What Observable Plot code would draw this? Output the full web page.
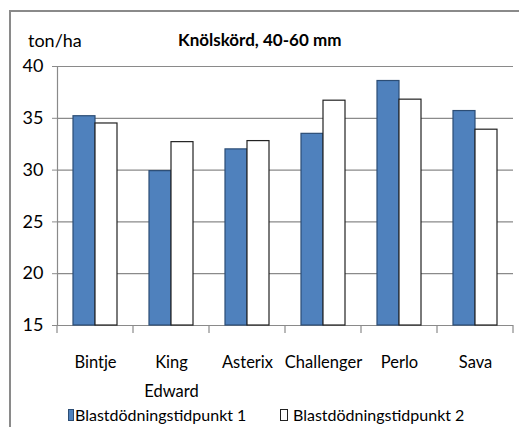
<!DOCTYPE html>
<html>
<head>
<meta charset="utf-8">
<script src="https://cdn.jsdelivr.net/npm/d3@7"></script>
<script src="https://cdn.jsdelivr.net/npm/@observablehq/plot@0.6"></script>
<style>
  html, body { margin: 0; padding: 0; background: #ffffff; }
  #wrap { position: relative; width: 519px; height: 427px; overflow: hidden; background: #ffffff;
          font-family: Lato, "DejaVu Sans Condensed", sans-serif; color: #000; }
  #frame { position: absolute; left: 9px; top: 10px; width: 600px; height: 600px;
           border-top: 2px solid #8a8a8a; border-left: 2px solid #8a8a8a; }
  #chart { position: absolute; left: 0; top: 0; }
  .txt { position: absolute; white-space: nowrap; line-height: 1; }
  #unit { left: 28px; top: 31px; font-size: 18px; }
  #title { left: 178px; top: 31px; font-size: 17px; font-weight: bold; }
  .sw { position: absolute; height: 12px; box-sizing: border-box; }
</style>
</head>
<body>
<div id="wrap">
  <div id="frame"></div>
  <div id="chart"></div>
  <div id="unit" class="txt"></div>
  <div id="title" class="txt"></div>
  <div id="legend"></div>
</div>
<script>
// ---- data ----
const varieties = ["Bintje", "King Edward", "Asterix", "Challenger", "Perlo", "Sava"];
const seriesNames = ["Blastdödningstidpunkt 1", "Blastdödningstidpunkt 2"];
const values1 = [35.2, 29.9, 32.0, 33.5, 38.6, 35.7];
const values2 = [34.5, 32.7, 32.8, 36.7, 36.8, 33.9];
const yTicks = [15, 20, 25, 30, 35, 40];
const titleText = "Knölskörd, 40-60 mm";
const unitText = "ton/ha";
const seriesFill = ["#4f81bd", "#ffffff"];
const seriesStroke = ["#2c4d75", "#222222"];

const data = varieties.flatMap((v, i) => [
  {variety: v, series: seriesNames[0], value: values1[i]},
  {variety: v, series: seriesNames[1], value: values2[i]}
]);

const fontFamily = 'Lato, "DejaVu Sans Condensed", sans-serif';

const chart = Plot.plot({
  width: 519,
  height: 400,
  marginTop: 66,
  marginBottom: 75,
  marginLeft: 57,
  marginRight: 6,
  style: {background: "transparent", fontFamily, fontSize: "17px", color: "#000", overflow: "visible"},
  fx: {domain: varieties, padding: 0, label: null, axis: null},
  x: {domain: seriesNames, paddingInner: 0, paddingOuter: 0.727, axis: null},
  y: {domain: [15, 40], label: null, axis: null},
  color: {domain: seriesNames, range: seriesFill},
  marks: [
    Plot.gridY(yTicks, {stroke: "#8a8a8a", strokeOpacity: 1, strokeWidth: 1.2}),
    Plot.frame({anchor: "left", facetAnchor: "left", stroke: "#8a8a8a", strokeWidth: 1.2}),
    Plot.axisY(yTicks, {tickSize: 5, tickPadding: 9, label: null, stroke: "#8a8a8a", fill: "#000", fontSize: 18}),
    Plot.barY(data, {
      fx: "variety", x: "series", y1: 15, y2: "value",
      fill: "series",
      stroke: d => d.series === seriesNames[0] ? seriesStroke[0] : seriesStroke[1],
      strokeWidth: 1.2
    }),
    Plot.axisFx({
      anchor: "bottom", tickSize: 0, tickPadding: 22, label: null, fontSize: 16.5, lineHeight: 1.75,
      tickFormat: d => d.replace(" ", "\n")
    })
  ]
});
document.getElementById("chart").appendChild(chart);

// category boundary ticks below the axis, positioned by Plot's own scales
const fx = chart.scale("fx");
const y = chart.scale("y");
const y0 = y.apply(15);
const edges = varieties.map(v => fx.apply(v)).concat([fx.apply(varieties[varieties.length - 1]) + fx.bandwidth]);
d3.select(chart).append("g")
  .selectAll("line").data(edges).join("line")
  .attr("x1", d => d).attr("x2", d => d)
  .attr("y1", y0).attr("y2", y0 + 8)
  .attr("stroke", "#8a8a8a").attr("stroke-width", 1.2);

document.getElementById("unit").textContent = unitText;
document.getElementById("title").textContent = titleText;

// legend
const legend = document.getElementById("legend");
const legendPos = [68, 280];
seriesNames.forEach((name, i) => {
  const sw = document.createElement("div");
  sw.className = "sw";
  sw.style.left = legendPos[i] + "px";
  sw.style.top = "409px";
  sw.style.width = (i === 0 ? 6 : 8) + "px";
  sw.style.background = seriesFill[i];
  sw.style.border = "1px solid " + seriesStroke[i];
  legend.appendChild(sw);
  const t = document.createElement("div");
  t.className = "txt";
  t.style.left = (legendPos[i] + (i === 0 ? 7 : 13)) + "px";
  t.style.top = "407px";
  t.style.fontSize = "16px";
  t.textContent = name;
  legend.appendChild(t);
});
</script>
</body>
</html>
